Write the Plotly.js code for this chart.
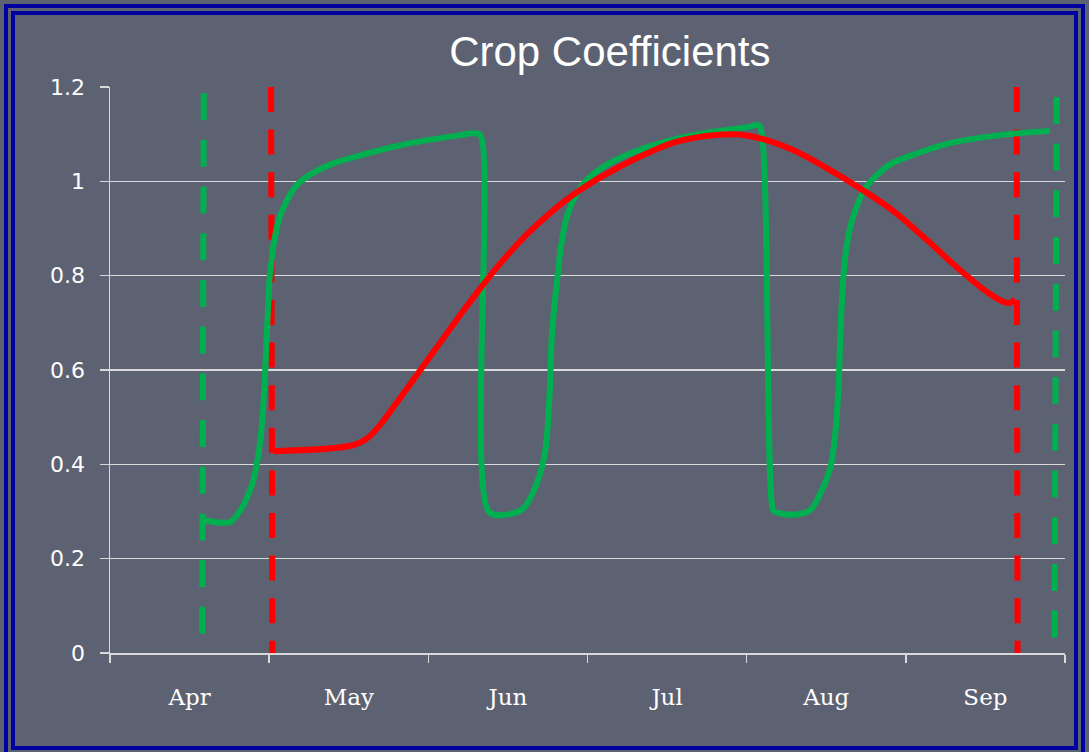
<!DOCTYPE html>
<html>
<head>
<meta charset="utf-8">
<script src="https://cdn.plot.ly/plotly-3.0.1.min.js"></script>
<style>
  html, body { margin: 0; padding: 0; background: #5d6272; width: 1089px; height: 752px; overflow: hidden; }
  #frame { position: absolute; left: 4px; top: 4px; width: 1081px; height: 753px; box-sizing: border-box; border: 11px double #0000a0; }
  #chart { position: absolute; left: 0; top: 0; width: 1089px; height: 752px; }
</style>
</head>
<body>
<div id="frame"></div>
<div id="chart"></div>
<script>
// Month categories (x in month units from start of April)
const months = ['Apr', 'May', 'Jun', 'Jul', 'Aug', 'Sep'];

// Green crop coefficient curve (three cuttings)
const greenX = [0.587, 0.706, 0.757, 0.820, 0.863, 0.901, 0.945, 0.970, 0.987, 1.004, 1.030, 1.060, 1.102, 1.165, 1.238, 1.404, 1.615, 1.887, 2.200, 2.283,
                2.327, 2.379,
                2.483, 2.598, 2.682, 2.735, 2.760, 2.777, 2.812, 2.835, 2.870, 2.934, 2.986, 3.101, 3.268, 3.457, 3.729, 4.022, 4.064,
                4.085, 4.165,
                4.179, 4.292, 4.399, 4.463, 4.526, 4.557, 4.578, 4.589, 4.608, 4.627, 4.660, 4.705, 4.755, 4.815, 4.901, 5.069, 5.278, 5.592, 5.906];
const greenY = [0.282, 0.276, 0.278, 0.303, 0.331, 0.367, 0.452, 0.565, 0.690, 0.800, 0.870, 0.918, 0.953, 0.989, 1.010, 1.038, 1.059, 1.081, 1.098, 1.102,
                1.098, 0.300,
                0.293, 0.307, 0.360, 0.430, 0.536, 0.678, 0.800, 0.865, 0.925, 0.975, 1.000, 1.031, 1.059, 1.081, 1.102, 1.116, 1.120,
                1.116, 0.303,
                0.299, 0.293, 0.303, 0.339, 0.394, 0.466, 0.572, 0.678, 0.800, 0.860, 0.915, 0.958, 0.990, 1.012, 1.036, 1.059, 1.081, 1.098, 1.107];

// Red crop coefficient curve
const redX = [1.025, 1.531, 1.615, 1.678, 1.782, 1.950, 2.117, 2.285, 2.452, 2.620, 2.787, 2.955, 3.164, 3.373, 3.582, 3.917, 4.085,
              4.294, 4.503, 4.713, 4.922, 5.131, 5.340, 5.508, 5.612, 5.650, 5.686];
const redY = [0.428, 0.441, 0.455, 0.476, 0.522, 0.600, 0.678, 0.755, 0.826, 0.888, 0.939, 0.982, 1.024, 1.059, 1.086, 1.100, 1.091,
              1.066, 1.028, 0.985, 0.937, 0.876, 0.812, 0.766, 0.745, 0.742, 0.750];

// Season start / end markers (dashed verticals): [top, bottom]
const greenStartX = [0.589, 0.579];
const greenStartY = [1.187, -0.008];
const greenEndX = [5.948, 5.933];
const greenEndY = [1.179, -0.021];
const redStartX = [1.012, 1.020];
const redStartY = [1.2, 0];
const redEndX = [5.696, 5.702];
const redEndY = [1.2, 0];

const GREEN = '#00b050';
const RED = '#ff0000';
const GRID = '#d9d9d9';

const dashGreen = '27px,19.7px';
const dashRed = '25px,17.6px';

const traces = [
  {x: greenStartX, y: greenStartY, mode: 'lines', line: {color: GREEN, width: 6, dash: dashGreen}, hoverinfo: 'skip'},
  {x: greenEndX, y: greenEndY, mode: 'lines', line: {color: GREEN, width: 6, dash: dashGreen}, hoverinfo: 'skip'},
  {x: redStartX, y: redStartY, mode: 'lines', line: {color: RED, width: 6, dash: dashRed}, hoverinfo: 'skip'},
  {x: redEndX, y: redEndY, mode: 'lines', line: {color: RED, width: 6, dash: dashRed}, hoverinfo: 'skip'},
  {x: greenX, y: greenY, mode: 'lines', line: {color: GREEN, width: 6, shape: 'spline', smoothing: 0.9}},
  {x: redX, y: redY, mode: 'lines', line: {color: RED, width: 6, shape: 'spline', smoothing: 1.1}},
  // invisible trace to host month labels on the overlay axis
  {x: months.map((m, i) => i + 0.5), y: months.map(() => 0), xaxis: 'x2', mode: 'markers', marker: {opacity: 0}, hoverinfo: 'skip'}
];

const layout = {
  width: 1089,
  height: 752,
  margin: {l: 110, r: 24, t: 87, b: 99},
  paper_bgcolor: 'rgba(0,0,0,0)',
  plot_bgcolor: 'rgba(0,0,0,0)',
  showlegend: false,
  title: {
    text: 'Crop Coefficients',
    font: {family: "'Liberation Sans', Arial, sans-serif", size: 42, color: '#ffffff'},
    xref: 'container', yref: 'container',
    x: 0.56, xanchor: 'center',
    y: 0.932, yanchor: 'middle'
  },
  xaxis: {
    range: [0, 6],
    tickmode: 'array',
    tickvals: months.map((m, i) => i).concat([months.length]),
    ticktext: months.map(() => '').concat(['']),
    ticks: 'outside', ticklen: 8, tickwidth: 1.5, tickcolor: GRID,
    showline: true, linecolor: GRID, linewidth: 1.5,
    showgrid: false, zeroline: false, fixedrange: true
  },
  xaxis2: {
    overlaying: 'x', anchor: 'y', side: 'bottom',
    range: [0, 6],
    tickmode: 'array',
    tickvals: months.map((m, i) => i + 0.5),
    ticktext: months,
    ticks: '', ticklabelstandoff: 28,
    tickfont: {family: "'DejaVu Serif', serif", size: 23, color: '#ffffff'},
    showline: false, showgrid: false, zeroline: false, fixedrange: true
  },
  yaxis: {
    range: [0, 1.2],
    tickmode: 'linear', tick0: 0, dtick: 0.2,
    ticks: 'outside', ticklen: 9, tickwidth: 1.5, tickcolor: GRID,
    ticklabelstandoff: 10,
    tickfont: {family: "'DejaVu Sans', sans-serif", size: 22, color: '#ffffff'},
    showline: true, linecolor: GRID, linewidth: 1.5,
    showgrid: true, gridcolor: GRID, gridwidth: 1.5,
    zeroline: false, fixedrange: true
  }
};

Plotly.newPlot('chart', traces, layout, {displayModeBar: false, staticPlot: true});
</script>
</body>
</html>
